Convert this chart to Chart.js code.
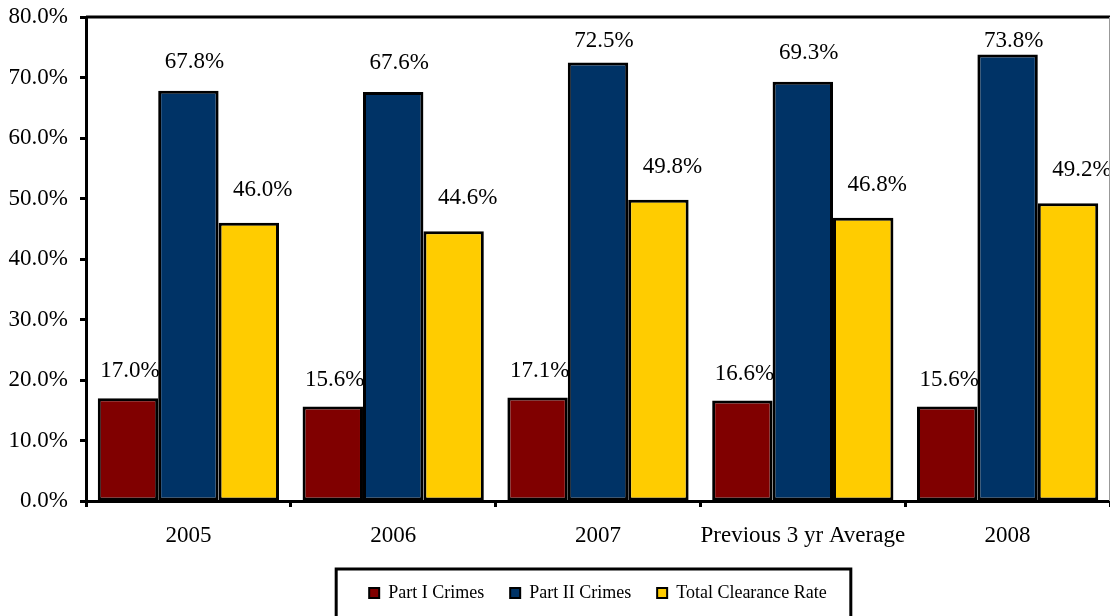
<!DOCTYPE html>
<html>
<head>
<meta charset="utf-8">
<script src="https://cdn.jsdelivr.net/npm/chart.js@4"></script>
<style>
  html, body { margin: 0; padding: 0; background: #fff; }
  #wrap { width: 1110px; height: 616px; position: relative; }
</style>
</head>
<body>
<div id="wrap"><canvas id="c"></canvas></div>
<script>
const categories = ['2005', '2006', '2007', 'Previous 3 yr Average', '2008'];
const seriesNames = ['Part I Crimes', 'Part II Crimes', 'Total Clearance Rate'];
const partI = [17.0, 15.6, 17.1, 16.6, 15.6];
const partII = [67.8, 67.6, 72.5, 69.3, 73.8];
const totalRate = [46.0, 44.6, 49.8, 46.8, 49.2];
const yTicks = [0, 10, 20, 30, 40, 50, 60, 70, 80];

const colors = ['#800000', '#003366', '#FFCC00'];
const labelDx = [2, 6, 14];
const labelDy = [27, 29, 33];
const FONT = '"Liberation Serif", "Times New Roman", serif';

const legendHeightFix = {
  id: 'legendHeightFix',
  beforeLayout(chart) {
    const lg = chart.legend;
    if (lg && !lg._patched) {
      const orig = lg.fit.bind(lg);
      lg.fit = function () { orig(); this.height = 58; };
      lg._patched = true;
    }
  }
};

const valueLabels = {
  id: 'valueLabels',
  afterDatasetsDraw(chart) {
    const ctx = chart.ctx;
    ctx.save();
    ctx.font = '23px ' + FONT;
    ctx.fillStyle = '#000';
    ctx.textAlign = 'center';
    ctx.textBaseline = 'middle';
    chart.data.datasets.forEach((ds, i) => {
      const meta = chart.getDatasetMeta(i);
      meta.data.forEach((bar, j) => {
        let y = bar.y - labelDy[i];
        y = Math.max(y, chart.chartArea.top + 24);
        ctx.fillText(ds.data[j].toFixed(1) + '%', bar.x + labelDx[i], y);
      });
    });
    ctx.restore();
  }
};

const frame = {
  id: 'frame',
  afterDraw(chart) {
    const ctx = chart.ctx;
    const a = chart.chartArea;
    ctx.save();
    ctx.strokeStyle = '#000';
    ctx.lineWidth = 3;
    ctx.beginPath();
    ctx.moveTo(a.left, a.top);
    ctx.lineTo(a.right, a.top);
    ctx.stroke();
    ctx.strokeStyle = '#999';
    ctx.lineWidth = 1;
    ctx.beginPath();
    ctx.moveTo(a.right - 0.5, a.top);
    ctx.lineTo(a.right - 0.5, a.bottom);
    ctx.stroke();
    const lg = chart.legend;
    if (lg && lg.legendHitBoxes && lg.legendHitBoxes.length) {
      const hb = lg.legendHitBoxes;
      const l = hb[0].left - 33;
      const last = hb[hb.length - 1];
      const r = last.left + last.width + 24;
      const cy = hb[0].top + hb[0].height / 2;
      ctx.strokeStyle = '#000';
      ctx.lineWidth = 3;
      ctx.strokeRect(l, cy - 24, r - l, 70);
    }
    ctx.restore();
  }
};

const datasets = [partI, partII, totalRate].map((d, i) => ({
  label: seriesNames[i],
  data: d,
  backgroundColor: colors[i],
  borderColor: '#000',
  borderWidth: 3,
  borderSkipped: false,
  categoryPercentage: 0.885,
  barPercentage: 1.0
}));

new Chart(document.getElementById('c'), {
  type: 'bar',
  data: { labels: categories, datasets },
  options: {
    responsive: true,
    maintainAspectRatio: false,
    animation: false,
    layout: { padding: { top: 17, right: 0, left: 0, bottom: 0 } },
    plugins: {
      tooltip: { enabled: false },
      legend: {
        position: 'bottom',
        fullSize: false,
        labels: {
          font: { family: FONT, size: 18 },
          color: '#000',
          boxWidth: 10,
          boxHeight: 10,
          padding: 26,
          generateLabels(chart) {
            const items = Chart.defaults.plugins.legend.labels.generateLabels(chart);
            items.forEach(it => { it.lineWidth = 2; it.strokeStyle = '#000'; });
            return items;
          }
        }
      }
    },
    scales: {
      x: {
        afterFit(scale) { scale.height = 57; },
        grid: {
          drawOnChartArea: false,
          drawTicks: true,
          tickLength: 6,
          tickWidth: 3,
          tickColor: '#000',
          offset: true
        },
        border: { display: true, color: '#000', width: 3 },
        ticks: {
          font: { family: FONT, size: 23 },
          color: '#000',
          padding: 15,
          maxRotation: 0,
          autoSkip: false
        }
      },
      y: {
        min: 0,
        max: 80,
        afterFit(scale) { scale.width = 86; scale.paddingTop = 0; scale.paddingBottom = 0; },
        afterBuildTicks(scale) { scale.ticks = yTicks.map(v => ({ value: v })); },
        grid: {
          drawOnChartArea: false,
          drawTicks: true,
          tickLength: 6,
          tickWidth: 3,
          tickColor: '#000'
        },
        border: { display: true, color: '#000', width: 3 },
        ticks: {
          font: { family: FONT, size: 23 },
          color: '#000',
          padding: 12,
          callback: v => Number(v).toFixed(1) + '%'
        }
      }
    }
  },
  plugins: [legendHeightFix, valueLabels, frame]
});
</script>
</body>
</html>
